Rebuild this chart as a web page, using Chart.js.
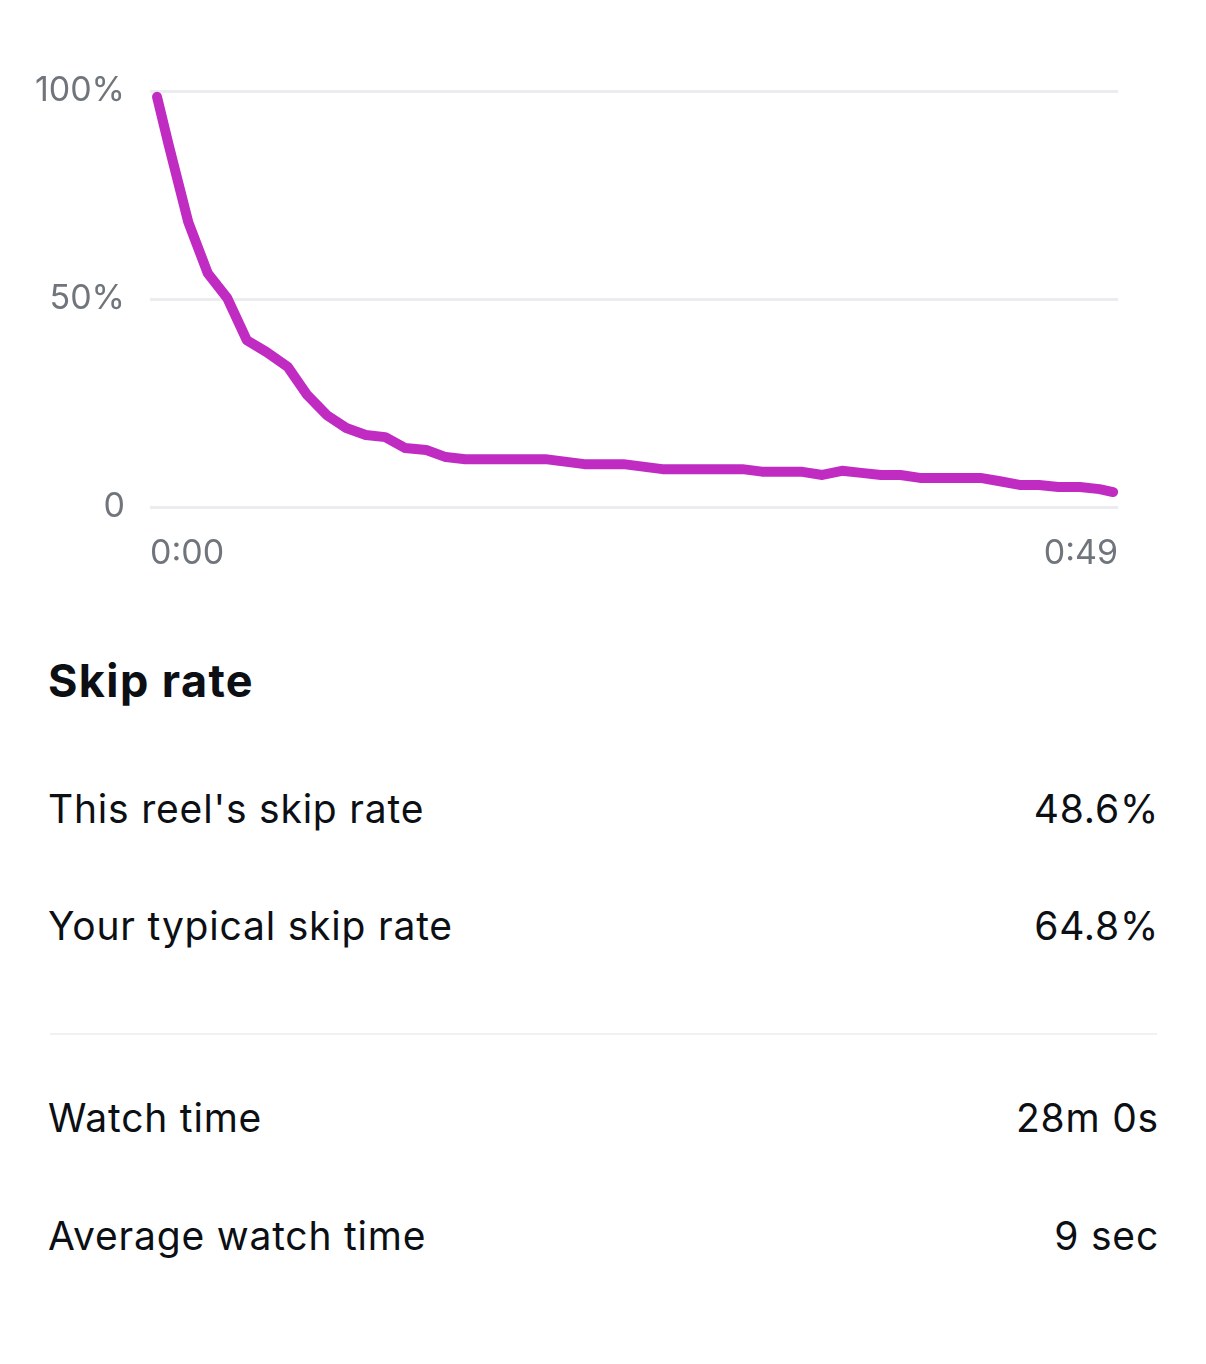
<!DOCTYPE html>
<html>
<head>
<meta charset="utf-8">
<script src="https://cdn.jsdelivr.net/npm/chart.js@4.4.1/dist/chart.umd.min.js"></script>
<style>
  body { margin: 0; background: #fff; font-family: 'Inter', 'Noto Sans', sans-serif; color: #0c0f14; }
  #page { position: relative; width: 1206px; height: 1364px; overflow: hidden; }
  #wrap { position: absolute; left: 0; top: 0; width: 1206px; height: 600px; }
  .row { position: absolute; left: 48px; right: 47px; height: 50px; line-height: 50px;
         display: flex; justify-content: space-between; font-size: 39px; letter-spacing: 0.8px; }
  .title { font-weight: 700; font-size: 45px; letter-spacing: 1.4px; }
  .sep { position: absolute; left: 50px; right: 49px; top: 1033px; height: 2px; background: #eff1f3; }
</style>
</head>
<body>
<div id="page">
  <div id="wrap"><canvas id="grafico_linha"></canvas></div>
  <div class="row title" style="top:656px"><span>Skip rate</span></div>
  <div class="row" style="top:784px"><span>This reel's skip rate</span><span>48.6%</span></div>
  <div class="row" style="top:901px"><span>Your typical skip rate</span><span>64.8%</span></div>
  <div class="sep"></div>
  <div class="row" style="top:1093px"><span>Watch time</span><span>28m 0s</span></div>
  <div class="row" style="top:1211px"><span>Average watch time</span><span>9 sec</span></div>
</div>
<script>
let ctx = document.getElementById('grafico_linha')

// dados (segundos do reel e % de pessoas que ainda assistem)
const tempos = [0, 0.6, 1.6, 2.6, 3.6, 4.6, 5.6, 6.7, 7.7, 8.7, 9.7, 10.7, 11.7, 12.7,
  13.8, 14.8, 15.8, 16.8, 17.8, 18.8, 19.9, 20.9, 21.9, 22.9, 23.9, 24.9, 25.9,
  27.0, 28.0, 29.0, 30.0, 31.0, 32.0, 33.0, 34.1, 35.1, 36.1, 37.1, 38.1, 39.1,
  40.2, 41.2, 42.2, 43.2, 44.2, 45.2, 46.2, 47.3, 48.3, 49]
const retencao = [98.6, 87, 68.5, 56.2, 50.2, 40.1, 37.3, 33.7, 26.9, 22.1, 19.0, 17.3, 16.8, 14.2,
  13.7, 12.0, 11.5, 11.5, 11.5, 11.5, 11.5, 10.9, 10.3, 10.3, 10.3, 9.7, 9.1,
  9.1, 9.1, 9.1, 9.1, 8.5, 8.5, 8.5, 7.7, 8.7, 8.2, 7.7, 7.7, 7.0,
  7.0, 7.0, 7.0, 6.2, 5.3, 5.3, 4.8, 4.8, 4.3, 3.6]
const ticksY = [0, 50, 100]
const duracao = 49

Chart.defaults.font.family = 'Inter'
Chart.defaults.font.size = 34
Chart.defaults.color = '#70757b'

const data = {
  datasets: [{
    data: tempos.map((t, i) => ({ x: t, y: retencao[i] })),
    borderColor: '#c02cc2',
    borderWidth: 10,
    borderCapStyle: 'round',
    borderJoinStyle: 'round',
    pointRadius: 0,
    tension: 0,
    fill: false
  }]
}

const config = {
  type: 'line',
  data,
  options: {
    responsive: true,
    maintainAspectRatio: false,
    animation: false,
    clip: false,
    layout: { padding: { left: 0, right: 88, top: 91, bottom: 33 } },
    plugins: { legend: { display: false }, tooltip: { enabled: false } },
    scales: {
      x: {
        type: 'linear',
        min: -0.36,
        max: duracao + 0.25,
        grid: { display: false },
        border: { display: false },
        afterBuildTicks: s => { s.ticks = [{ value: s.min }, { value: s.max }] },
        afterFit: s => { s.height = 60 },
        ticks: {
          align: 'inner',
          padding: 18,
          maxRotation: 0,
          callback: v => {
            const sec = Math.round(Math.max(0, Math.min(duracao, v)))
            return Math.floor(sec / 60) + ':' + String(sec % 60).padStart(2, '0')
          }
        }
      },
      y: {
        min: 0,
        max: 100,
        afterBuildTicks: s => { s.ticks = ticksY.map(v => ({ value: v })) },
        afterFit: s => { s.width = 150 },
        grid: { color: '#eaecef', lineWidth: 3, drawTicks: false },
        border: { display: false },
        ticks: {
          padding: 25,
          callback: v => v === 0 ? '0' : v + '%'
        }
      }
    }
  }
}

const graph = new Chart(ctx, config)
</script>
</body>
</html>
